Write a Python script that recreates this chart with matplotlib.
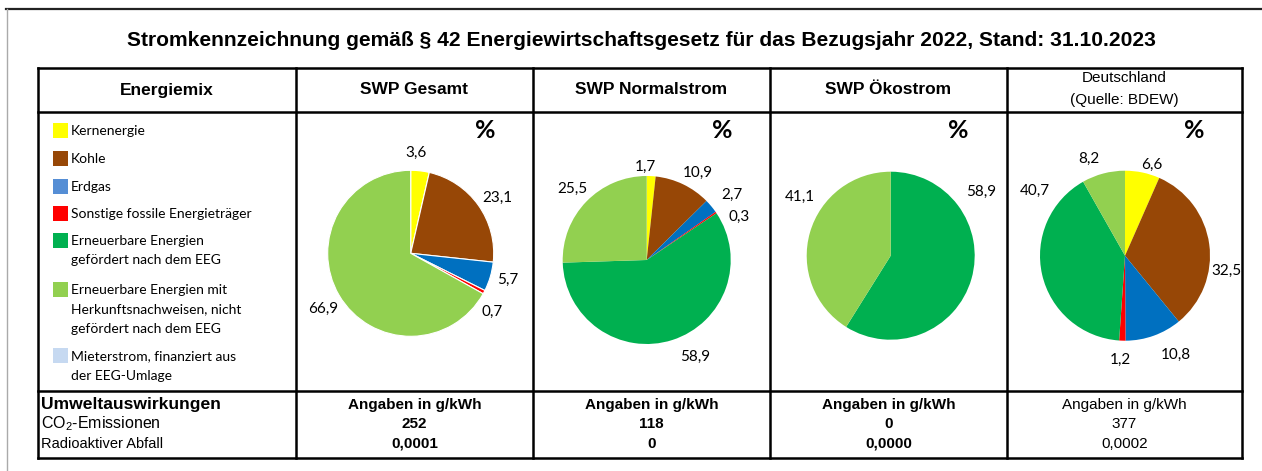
import matplotlib
matplotlib.use("Agg")
import matplotlib.pyplot as plt
from matplotlib.patches import Rectangle

plt.rcParams['mathtext.fontset'] = 'custom'
plt.rcParams['mathtext.rm'] = 'Liberation Sans'

# ---------- Data ----------
title = ("Stromkennzeichnung gemäß § 42 Energiewirtschaftsgesetz "
         "für das Bezugsjahr 2022, Stand: 31.10.2023")

columns = ["SWP Gesamt", "SWP Normalstrom", "SWP Ökostrom", "Deutschland\n(Quelle: BDEW)"]

categories = [
    "Kernenergie",
    "Kohle",
    "Erdgas",
    "Sonstige fossile Energieträger",
    "Erneuerbare Energien\ngefördert nach dem EEG",
    "Erneuerbare Energien mit\nHerkunftsnachweisen, nicht\ngefördert nach dem EEG",
    "Mieterstrom, finanziert aus\nder EEG-Umlage",
]
legend_colors = ["#FFFF00", "#974706", "#558ED5", "#FF0000", "#00B050", "#92D050", "#C6D9F1"]
pie_colors = ["#FFFF00", "#974706", "#0070C0", "#FF0000", "#00B050", "#92D050", "#C6D9F1"]

swp_gesamt = [3.6, 23.1, 5.7, 0.7, 0.0, 66.9, 0.0]
swp_normal = [1.7, 10.9, 2.7, 0.3, 58.9, 25.5, 0.0]
swp_oeko = [0.0, 0.0, 0.0, 0.0, 58.9, 41.1, 0.0]
deutschland = [6.6, 32.5, 10.8, 1.2, 40.7, 8.2, 0.0]
mixes = [swp_gesamt, swp_normal, swp_oeko, deutschland]

env_rows = ["CO$_\\mathregular{2}$-Emissionen", "Radioaktiver Abfall"]
co2 = ["252", "118", "0", "377"]
radio = ["0,0001", "0", "0,0000", "0,0002"]

# ---------- Layout (pixels) ----------
W, H = 1262, 471
col_x = [38, 296, 533, 770, 1007, 1242]
row_y = [68, 112, 391, 458]

# pie centre / radius and label positions (radius units, only non-zero slices)
pie_geo = [(410.7, 253.3, 83), (646.7, 260, 84), (890.7, 255.7, 84), (1125, 255.7, 85)]
label_pos = [
    [(0.06, 1.21), (1.04, 0.67), (1.17, -0.32), (0.98, -0.71), (-1.06, -0.67)],
    [(-0.02, 1.11), (0.61, 1.04), (1.02, 0.77), (1.10, 0.51), (0.58, -1.15), (-0.88, 0.85)],
    [(1.08, 0.76), (-1.08, 0.70)],
    [(0.31, 1.07), (1.19, -0.18), (0.60, -1.17), (-0.05, -1.22), (-1.06, 0.76), (-0.42, 1.14)],
]
pct_x = [485, 722, 958, 1194]

fig = plt.figure(figsize=(W / 100, H / 100), dpi=100)
ax = fig.add_axes([0, 0, 1, 1])
ax.set_xlim(0, W)
ax.set_ylim(H, 0)
ax.axis('off')

# outer frame of the page
ax.plot([6, W], [8.5, 8.5], color="#222222", lw=1.6)
ax.plot([6.5, 6.5], [8.5, 470], color="#aaaaaa", lw=1.0)

ax.text(641, 40, title, ha='center', va='center', fontsize=15.1,
        fontweight='bold', family='Liberation Sans')

# ---------- Table lines ----------
lw = 1.8
for y in row_y:
    ax.plot([col_x[0], col_x[-1]], [y, y], color='black', lw=lw, solid_capstyle='projecting')
for x in col_x:
    ax.plot([x, x], [row_y[0], row_y[-1]], color='black', lw=lw, solid_capstyle='projecting')

# header row
hy = (row_y[0] + row_y[1]) / 2
ax.text((col_x[0] + col_x[1]) / 2, hy, "Energiemix", ha='center', va='center',
        fontsize=12.5, fontweight='bold', family='Liberation Sans')
for i, name in enumerate(columns):
    cx = (col_x[i + 1] + col_x[i + 2]) / 2
    if "\n" in name:
        for j, line in enumerate(name.split("\n")):
            ax.text(cx, 78 + j * 22, line, ha='center', va='center',
                    fontsize=11, family='Liberation Sans')
    else:
        ax.text(cx, hy, name, ha='center', va='center', fontsize=12.5,
                fontweight='bold', family='Liberation Sans')

# ---------- Legend ----------
leg_y = [130, 158, 186, 213, 240, 289, 355]
for label, color, y in zip(categories, legend_colors, leg_y):
    ax.add_patch(Rectangle((52.5, y - 7.5), 15, 15, color=color, lw=0))
    for j, line in enumerate(label.split("\n")):
        ax.text(71, y + 1 + j * 19.5, line, ha='left', va='center',
                fontsize=10, family='Lato')

# ---------- Pies ----------
for k, (vals, (cx, cy, r), lpos) in enumerate(zip(mixes, pie_geo, label_pos)):
    v = [a for a in vals if a > 0]
    c = [col for a, col in zip(vals, pie_colors) if a > 0]
    s = 1.25 * r
    pax = fig.add_axes([(cx - s) / W, 1 - (cy + s) / H, 2 * s / W, 2 * s / H])
    edge = dict(edgecolor='white', linewidth=0.8) if k == 0 else dict(linewidth=0)
    pax.pie(v, colors=c, startangle=90, counterclock=False, wedgeprops=edge)
    for a, (lx, ly) in zip(v, lpos):
        pax.text(lx, ly, f"{a:.1f}".replace(".", ","), ha='center', va='center',
                 fontsize=11, family='Lato')
    ax.text(pct_x[k], 130, "%", ha='center', va='center', fontsize=18,
            fontweight='bold', family='Lato')

# ---------- Environmental rows ----------
ax.text(41, 405, "Umweltauswirkungen", ha='left', va='center', fontsize=12.6,
        fontweight='bold', family='Liberation Sans')
ax.text(41, 424, env_rows[0], ha='left', va='center', fontsize=11.5, family='Liberation Sans')
ax.text(41, 444, env_rows[1], ha='left', va='center', fontsize=10.5, family='Liberation Sans')
for i in range(4):
    cx = (col_x[i + 1] + col_x[i + 2]) / 2
    wt = 'normal' if i == 3 else 'bold'
    ax.text(cx, 405, "Angaben in g/kWh", ha='center', va='center', fontsize=11,
            fontweight=wt, family='Liberation Sans')
    ax.text(cx, 424, co2[i], ha='center', va='center', fontsize=11,
            fontweight=wt, family='Liberation Sans')
    ax.text(cx, 444, radio[i], ha='center', va='center', fontsize=11,
            fontweight=wt, family='Liberation Sans')

fig.savefig("out.png", dpi=100)
